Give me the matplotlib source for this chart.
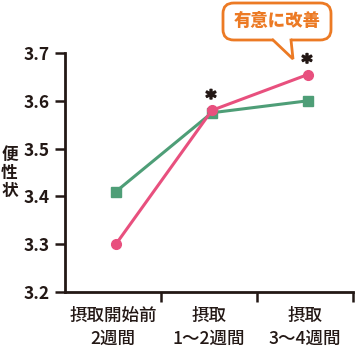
import matplotlib.pyplot as plt
import matplotlib.patheffects as pe
from matplotlib.patches import FancyBboxPatch, Polygon
from matplotlib.lines import Line2D

plt.rcParams['font.family'] = ['Noto Sans CJK JP', 'DejaVu Sans']

periods = ['摂取開始前\n2週間', '摂取\n1～2週間', '摂取\n3～4週間']
test_group = [3.30, 3.58, 3.655]
placebo_group = [3.41, 3.575, 3.60]
y_ticks = [3.2, 3.3, 3.4, 3.5, 3.6, 3.7]

pink = '#E8507E'
green = '#4E9E77'
orange = '#EC7A24'
dark = '#231815'

fig = plt.figure(figsize=(3.62, 3.48), dpi=100)
ax = fig.add_axes([65 / 362, 56 / 348, 288 / 362, 239 / 348])

xs = [i + 0.53 for i in range(len(periods))]
ax.plot(xs, placebo_group, color=green, lw=2.2, marker='s', ms=6.5, clip_on=False, zorder=3)
ax.plot(xs, test_group, color=pink, lw=2.2, marker='o', ms=7, clip_on=False, zorder=4)

# significance marks
for i in (1, 2):
    ax.text(xs[i] - 0.01, test_group[i] + 0.004, '*', ha='center', va='bottom',
            fontsize=14.5, fontweight='heavy', color=dark, family='DejaVu Sans',
            path_effects=[pe.withStroke(linewidth=1.2, foreground=dark)])

ax.set_xlim(0, 3)
ax.set_ylim(3.2, 3.7)
ax.set_yticks(y_ticks)
ax.set_yticklabels([f'{v:.1f}' for v in y_ticks], fontsize=12.5, fontweight='bold', color=dark)
ax.set_xticks([1, 2, 3])
ax.set_xticklabels([])
ax.set_xticks([0.5, 1.5, 2.5], minor=True)
ax.set_xticklabels(periods, minor=True, fontsize=12.6, fontweight='medium',
                   color=dark, linespacing=1.3)
ax.tick_params(axis='x', which='minor', length=0, pad=11)
ax.tick_params(axis='both', which='major', length=7, width=1.8, color=dark)
ax.tick_params(axis='y', pad=4)

for side in ('top', 'right'):
    ax.spines[side].set_visible(False)
for side in ('left', 'bottom'):
    ax.spines[side].set_linewidth(2)
    ax.spines[side].set_color(dark)

fig.text(9.5 / 362, 1 - 173 / 348, '便\n性\n状', ha='center', va='center',
         fontsize=12, fontweight='bold', color=dark, linespacing=1.0)

# callout bubble
bx0, by0, bx1, by1 = 223 / 362, 1 - 40 / 348, 331 / 362, 1 - 3 / 348
bubble = FancyBboxPatch((bx0, by0), bx1 - bx0, by1 - by0, transform=fig.transFigure,
                        boxstyle='round,pad=0,rounding_size=0.03', fc='white',
                        ec=orange, lw=2, zorder=5)
fig.add_artist(bubble)
tl, tip, tr = (273 / 362, by0), (293 / 362, 1 - 59 / 348), (291 / 362, by0)
fig.add_artist(Polygon([(tl[0], by0 + 0.01), tl, tip, tr, (tr[0], by0 + 0.01)],
                       transform=fig.transFigure, fc='white', ec='none', zorder=6))
fig.add_artist(Line2D([tl[0], tip[0], tr[0]], [tl[1], tip[1], tr[1]],
                      transform=fig.transFigure, color=orange, lw=2,
                      solid_joinstyle='miter', zorder=7))
fig.text((bx0 + bx1) / 2, (by0 + by1) / 2 + 0.002, '有意に改善', ha='center', va='center',
         fontsize=12.5, fontweight='heavy', color=orange, zorder=8)

fig.savefig('out.png', dpi=100)
